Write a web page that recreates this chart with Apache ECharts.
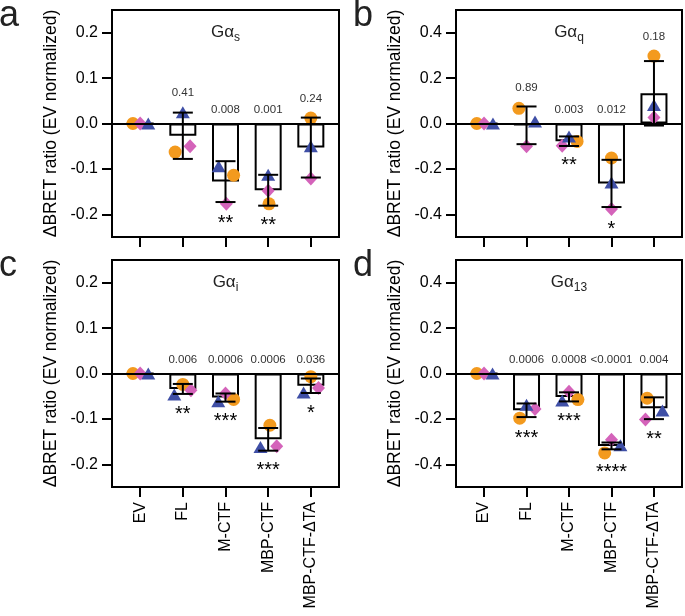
<!DOCTYPE html>
<html><head><meta charset="utf-8">
<script src="https://cdn.jsdelivr.net/npm/echarts@6/dist/echarts.min.js"></script>
<style>html,body{margin:0;padding:0;background:#fff}#c{width:685px;height:616px}</style>
</head><body><div id="c"></div>
<script>
// ---------- DATA ----------
const categories = ['EV', 'FL', 'M-CTF', 'MBP-CTF', 'MBP-CTF-ΔTA'];
const yTicksSmall = [-0.2, -0.1, 0, 0.1, 0.2];
const yTicksLarge = [-0.4, -0.2, 0, 0.2, 0.4];

// Panel a: Gαs
const a_mean     = [0, -0.027, -0.128, -0.147, -0.053];
const a_err      = [0, 0.051, 0.045, 0.034, 0.066];
const a_circle   = [0, -0.063, -0.114, -0.177, 0.012];
const a_diamond  = [0, -0.050, -0.177, -0.148, -0.121];
const a_triangle = [0, 0.025, -0.094, -0.113, -0.050];
const a_p        = ['', '0.41', '0.008', '0.001', '0.24'];
const a_stars    = ['', '', '**', '**', ''];

// Panel b: Gαq
const b_mean     = [0, -0.008, -0.078, -0.264, 0.133];
const b_err      = [0, 0.083, 0.021, 0.104, 0.142];
const b_circle   = [0, 0.067, -0.079, -0.152, 0.297];
const b_diamond  = [0, -0.100, -0.098, -0.377, 0.026];
const b_triangle = [0, 0.009, -0.057, -0.260, 0.082];
const b_p        = ['', '0.89', '0.003', '0.012', '0.18'];
const b_stars    = ['', '', '**', '*', ''];

// Panel c: Gαi
const c_mean     = [0, -0.034, -0.053, -0.145, -0.027];
const c_err      = [0, 0.011, 0.009, 0.025, 0.016];
const c_circle   = [0, -0.024, -0.057, -0.114, -0.007];
const c_diamond  = [0, -0.037, -0.044, -0.160, -0.032];
const c_triangle = [0, -0.046, -0.061, -0.162, -0.042];
const c_p        = ['', '0.006', '0.0006', '0.0006', '0.036'];
const c_stars    = ['', '**', '***', '***', '*'];

// Panel d: Gα13
const d_mean     = [0, -0.162, -0.103, -0.319, -0.153];
const d_err      = [0, 0.030, 0.020, 0.015, 0.048];
const d_circle   = [0, -0.197, -0.115, -0.350, -0.109];
const d_diamond  = [0, -0.156, -0.080, -0.292, -0.203];
const d_triangle = [0, -0.138, -0.119, -0.316, -0.163];
const d_p        = ['', '0.0006', '0.0008', '<0.0001', '0.004'];
const d_stars    = ['', '***', '***', '****', '**'];

// ---------- LAYOUT (horizontal jitter of replicate markers, in category units) ----------
const a_jc = [-0.17, -0.18, 0.19, 0.02, 0], a_jd = [0, 0.17, 0.02, 0, 0], a_jt = [0.19, 0, -0.16, 0, 0];
const b_jc = [-0.17, -0.18, 0.19, 0, 0], b_jd = [0, 0, -0.16, 0, 0], b_jt = [0.21, 0.2, 0, 0, 0];
const c_jc = [-0.17, 0, 0.19, 0.04, 0], c_jd = [0, 0.19, 0, 0.2, 0.18], c_jt = [0.19, -0.2, -0.17, -0.18, -0.17];
const d_jc = [-0.17, -0.16, 0.21, -0.16, -0.16], d_jd = [0, 0.2, 0, 0, -0.2], d_jt = [0.2, 0, -0.16, 0.21, 0.2];

const FONT = '"Liberation Sans", Arial, Helvetica, sans-serif';
const ORANGE = '#F39A1E', PINK = '#D463BA', BLUE = '#3F4FA6';

const panels = [
  {letter: 'a', sub: 's', mean: a_mean, err: a_err, c: a_circle, d: a_diamond, t: a_triangle, p: a_p, s: a_stars, jc: a_jc, jd: a_jd, jt: a_jt, ticks: yTicksSmall, lim: 0.25, left: 112, top: 10, width: 227, labels: false},
  {letter: 'b', sub: 'q', mean: b_mean, err: b_err, c: b_circle, d: b_diamond, t: b_triangle, p: b_p, s: b_stars, jc: b_jc, jd: b_jd, jt: b_jt, ticks: yTicksLarge, lim: 0.5, left: 456, top: 10, width: 226, labels: false},
  {letter: 'c', sub: 'i', mean: c_mean, err: c_err, c: c_circle, d: c_diamond, t: c_triangle, p: c_p, s: c_stars, jc: c_jc, jd: c_jd, jt: c_jt, ticks: yTicksSmall, lim: 0.25, left: 112, top: 260, width: 227, labels: true},
  {letter: 'd', sub: '13', mean: d_mean, err: d_err, c: d_circle, d: d_diamond, t: d_triangle, p: d_p, s: d_stars, jc: d_jc, jd: d_jd, jt: d_jt, ticks: yTicksLarge, lim: 0.5, left: 456, top: 260, width: 226, labels: true}
];
const H = 227;
const catIdx = categories.map((_, i) => i);

const grid = [], xAxis = [], yAxis = [], series = [], graphic = [];

panels.forEach((P, k) => {
  grid.push({left: P.left, top: P.top, width: P.width, height: H, show: true,
    borderColor: '#000', borderWidth: 2, backgroundColor: 'transparent'});
  xAxis.push({gridIndex: k, type: 'value', min: -0.66, max: 4.66, position: 'bottom',
    splitLine: {show: false}, axisLine: {show: false, onZero: false},
    axisTick: {show: true, length: 10, customValues: catIdx, lineStyle: {color: '#000', width: 2}},
    axisLabel: {show: P.labels, customValues: catIdx, rotate: 90, margin: 15, fontSize: 16, color: '#000', fontFamily: FONT,
      formatter: v => categories[Math.round(v)]}});
  yAxis.push({gridIndex: k, type: 'value', min: -P.lim, max: P.lim, position: 'left',
    splitLine: {show: false}, axisLine: {show: false, onZero: false},
    axisTick: {show: true, length: 10, customValues: P.ticks, lineStyle: {color: '#000', width: 2}},
    axisLabel: {customValues: P.ticks, margin: 14, fontSize: 16, color: '#000', fontFamily: FONT,
      formatter: v => v.toFixed(1)},
    name: 'ΔBRET ratio (EV normalized)', nameLocation: 'middle', nameGap: 52,
    nameTextStyle: {fontSize: 17.5, color: '#000', fontFamily: FONT}});

  series.push({type: 'bar', xAxisIndex: k, yAxisIndex: k, barWidth: 27, z: 2, silent: true,
    data: P.mean.map((m, i) => [i, m]),
    itemStyle: {color: '#fff', borderColor: '#000', borderWidth: 2}});

  const sc = (vals, jit, symbol, size, color) => ({type: 'scatter', xAxisIndex: k, yAxisIndex: k, z: 3, silent: true,
    symbol, symbolSize: size, itemStyle: {color, opacity: 1},
    data: vals.map((v, i) => [i + jit[i], v])});
  series.push(sc(P.c, P.jc, 'circle', 13, ORANGE));
  series.push(sc(P.d, P.jd, 'diamond', [13, 14], PINK));
  series.push(sc(P.t, P.jt, 'triangle', [14, 12], BLUE));

  series.push({type: 'custom', xAxisIndex: k, yAxisIndex: k, z: 4, silent: true,
    data: P.mean.map((m, i) => [i, m, P.err[i]]),
    renderItem: (params, api) => {
      const x = api.value(0), m = api.value(1), e = api.value(2);
      if (!e) return null;
      const a = api.coord([x, m + e]), b = api.coord([x, m - e]);
      const st = {stroke: '#000', lineWidth: 2};
      return {type: 'group', children: [
        {type: 'line', shape: {x1: a[0], y1: a[1], x2: b[0], y2: b[1]}, style: st},
        {type: 'line', shape: {x1: a[0] - 10, y1: a[1], x2: a[0] + 10, y2: a[1]}, style: st},
        {type: 'line', shape: {x1: b[0] - 10, y1: b[1], x2: b[0] + 10, y2: b[1]}, style: st}
      ]};
    },
    markLine: {silent: true, symbol: 'none', label: {show: false},
      lineStyle: {color: '#000', width: 2, type: 'solid'}, data: [{yAxis: 0}]}
  });

  // annotations: p-values above, stars below
  series.push({type: 'custom', xAxisIndex: k, yAxisIndex: k, z: 5, silent: true,
    data: P.mean.map((m, i) => {
      const vals = [0, m + P.err[i], m - P.err[i], P.c[i], P.d[i], P.t[i]];
      return [i, Math.max(...vals), Math.min(...vals)];
    }),
    renderItem: (params, api) => {
      const i = params.dataIndex, x = api.value(0), top = api.value(1), bot = api.value(2);
      const tp = api.coord([x, top]), bp = api.coord([x, bot]);
      const ch = [];
      if (P.p[i]) ch.push({type: 'text', style: {text: P.p[i], x: tp[0], y: top > 0.001 ? tp[1] - 19 : tp[1] - 14,
        align: 'center', verticalAlign: 'middle', font: '11.5px ' + FONT, fill: '#333'}});
      if (P.s[i]) ch.push({type: 'text', style: {text: P.s[i], x: bp[0], y: bp[1] + 20,
        align: 'center', verticalAlign: 'middle', font: '20px ' + FONT, fill: '#000'}});
      return {type: 'group', children: ch};
    }
  });

  graphic.push({type: 'text', x: P.left < 200 ? -1 : 353, y: P.top + 6, z: 10,
    style: {text: P.letter, font: '36px ' + FONT, fill: '#222', align: 'left', verticalAlign: 'middle'}});
  graphic.push({type: 'text', x: P.left + P.width / 2, y: P.top + 22, z: 10,
    style: {text: '{g|Gα}{s|' + P.sub + '}', align: 'center', verticalAlign: 'middle', fill: '#222',
      rich: {g: {fontSize: 17, lineHeight: 24, fontFamily: FONT, fill: '#222'},
             s: {fontSize: 12, lineHeight: 12, verticalAlign: 'bottom', fontFamily: FONT, fill: '#222'}}}});
});

const chart = echarts.init(document.getElementById('c'), null, {renderer: 'canvas'});
chart.setOption({animation: false, backgroundColor: '#fff', grid, xAxis, yAxis, series, graphic});
</script></body></html>
